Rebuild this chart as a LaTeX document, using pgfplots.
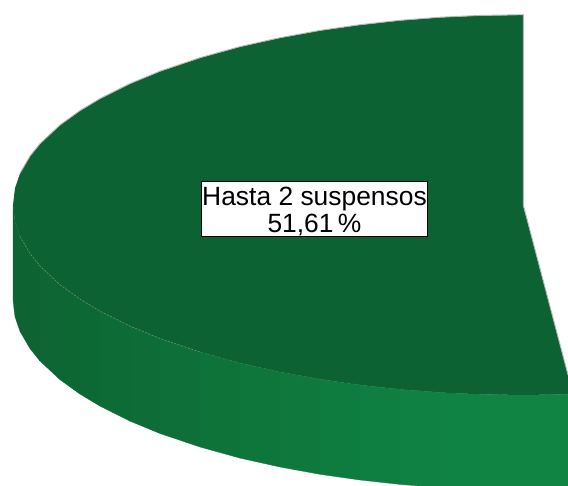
\documentclass[border=0pt]{standalone}
\usepackage{pgfplots}
\pgfplotsset{compat=1.18}
\usepackage{fontspec}
\setmainfont{Liberation Sans}
\definecolor{pietop}{RGB}{13,98,51}
\definecolor{rim}{RGB}{176,182,178}
\definecolor{rimfront}{RGB}{96,150,120}
\definecolor{rimfaint}{RGB}{50,125,85}
\pgfplotsset{band/.style n args={3}{
    fill={rgb,255:red,#1;green,#2;blue,#3},
    draw={rgb,255:red,#1;green,#2;blue,#3}, line width=0.3pt}}
\begin{document}
\begin{tikzpicture}
\begin{axis}[
    width=568pt, height=486pt,
    scale only axis,
    xmin=0, xmax=568,
    ymin=0, ymax=486,
    y dir=reverse,
    hide axis,
    clip=true
]
% page background
\addplot[fill=white, draw=none] coordinates {(0,0) (568,0) (568,486) (0,486)} -- cycle;

% side wall, in narrow bands from dark to light
\addplot[band={13}{100}{50}] coordinates {
  (13,205) (15,221.8) (20,236.4) (30,253.6) (40,266)
  (40,361) (30,348.6) (20,331.4) (15,316.8) (13,300)
} -- cycle;
\addplot[band={13}{102}{51}] coordinates {(40,266) (60,284.7) (60,379.7) (40,361)} -- cycle;
\addplot[band={13}{103}{51}] coordinates {(60,284.7) (80,299.1) (80,394.1) (60,379.7)} -- cycle;
\addplot[band={13}{105}{52}] coordinates {(80,299.1) (100,311.1) (100,406.1) (80,394.1)} -- cycle;
\addplot[band={13}{107}{53}] coordinates {(100,311.1) (130,326.1) (130,421.1) (100,406.1)} -- cycle;
\addplot[band={14}{109}{54}] coordinates {(130,326.1) (160,338.5) (160,433.5) (130,421.1)} -- cycle;
\addplot[band={14}{112}{56}] coordinates {(160,338.5) (200,352) (200,447) (160,433.5)} -- cycle;
\addplot[band={14}{115}{57}] coordinates {(200,352) (240,363.1) (240,458.1) (200,447)} -- cycle;
\addplot[band={14}{118}{59}] coordinates {(240,363.1) (280,372) (280,467) (240,458.1)} -- cycle;
\addplot[band={15}{121}{61}] coordinates {(280,372) (320,379.3) (320,474.3) (280,467)} -- cycle;
\addplot[band={15}{124}{63}] coordinates {(320,379.3) (360,385) (360,480) (320,474.3)} -- cycle;
\addplot[band={15}{127}{65}] coordinates {(360,385) (400,389.4) (400,484.4) (360,480)} -- cycle;
\addplot[band={15}{129}{66}] coordinates {(400,389.4) (440,392.5) (440,486) (420,486) (400,484.4)} -- cycle;
\addplot[band={15}{131}{67}] coordinates {(440,392.5) (480,394.3) (480,486) (440,486)} -- cycle;
\addplot[band={15}{132}{67}] coordinates {(480,394.3) (523,395) (568,394.3) (568,486) (480,486)} -- cycle;

% top face of the slice
\addplot[fill=pietop, draw=none] coordinates {
  (523,205) (523,15) (480,15.7) (440,17.5) (400,20.6) (360,25) (320,30.7)
  (280,38) (240,46.9) (200,58) (160,71.5) (130,83.9) (100,98.9) (80,110.9)
  (60,125.3) (40,144) (30,156.4) (20,173.6) (15,188.2) (13,205)
  (15,221.8) (20,236.4) (30,253.6) (40,266) (60,284.7) (80,299.1) (100,311.1)
  (130,326.1) (160,338.5) (200,352) (240,363.1) (280,372) (320,379.3)
  (360,385) (400,389.4) (440,392.5) (480,394.3) (523,395) (568,394.3) (568,375)
} -- cycle;
% grey edge round the back and along the cut
\addplot[draw=rim, line width=0.9pt] coordinates {
  (523.3,205) (523.3,14.7) (480,15.4) (440,17.2) (400,20.3) (360,24.7) (320,30.4)
  (280,37.7) (240,46.6) (200,57.7) (160,71.2) (130,83.6) (100,98.6) (80,110.6)
  (60,125) (40,143.7) (30,156.1) (20,173.3)
};
\addplot[draw=rim, line width=0.9pt] coordinates {(523.3,205) (568,375)};
% faint broken edge along the front
\addplot[draw=rimfront, line width=0.6pt, dash pattern=on 2pt off 1.5pt] coordinates {
  (20,236.4) (30,253.6) (40,266) (60,284.7) (80,299.1) (100,311.1)
  (130,326.1) (160,338.5) (200,352)
};
\addplot[draw=rimfaint, line width=0.6pt, dash pattern=on 3pt off 3pt] coordinates {
  (200,352) (240,363.1) (280,372) (320,379.3) (360,385) (400,389.4) (440,392.5)
};

\node[draw=black, line width=1.4pt, fill=white, inner sep=0pt,
      minimum width=226pt, minimum height=55pt]
  at (axis cs:314.5,209) {};
\node[inner sep=0pt, align=center, font=\fontsize{26.4}{27}\selectfont]
  at (axis cs:314.5,211) {Hasta 2 suspensos\\51,61\,\%};
\end{axis}
\end{tikzpicture}
\end{document}
